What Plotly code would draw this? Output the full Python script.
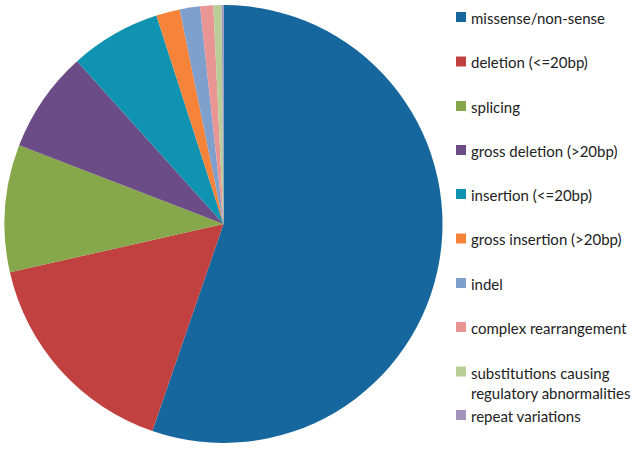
import plotly.graph_objects as go

labels = ["missense/non-sense", "deletion (<=20bp)", "splicing", "gross deletion (>20bp)",
          "insertion (<=20bp)", "gross insertion (>20bp)", "indel", "complex rearrangement",
          "substitutions causing<br>regulatory abnormalities", "repeat variations"]
values = [55.3, 16.2, 9.4, 7.5, 6.7, 1.75, 1.5, 0.97, 0.6, 0.14]
colors = ["#16679e", "#c0413f", "#86a74a", "#6c4c86", "#0f93b0", "#f5843a",
          "#7f9fcd", "#e89594", "#b9ce96", "#a394bd"]

W, H = 640, 449
fig = go.Figure(go.Pie(
    labels=labels, values=values, sort=False, direction="clockwise", rotation=0,
    marker=dict(colors=colors, line=dict(width=0)),
    textinfo="none", hoverinfo="label+percent", showlegend=False,
    domain=dict(x=[4.5 / W, 442.5 / W], y=[1 - 443 / H, 1 - 5 / H]),
))

# custom legend (spacing matches reference)
legend_y = [17, 61.5, 106, 150, 194, 238.5, 283, 327, 371.5, 415]
shapes, annotations = [], []
for lab, col, yc in zip(labels, colors, legend_y):
    shapes.append(dict(type="rect", xref="paper", yref="paper",
                       x0=456 / W, x1=466 / W, y0=1 - (yc + 5) / H, y1=1 - (yc - 5) / H,
                       fillcolor=col, line=dict(width=0)))
    annotations.append(dict(xref="paper", yref="paper", x=469 / W, y=1 - (yc - 10) / H,
                            xanchor="left", yanchor="top", text=lab, showarrow=False,
                            align="left", font=dict(family="Lato", size=15, color="#222222")))

fig.update_layout(width=W, height=H, margin=dict(l=0, r=0, t=0, b=0),
                  paper_bgcolor="white", plot_bgcolor="white",
                  shapes=shapes, annotations=annotations)
fig.write_html("out.html", config={"displayModeBar": False},
               post_script="document.body.style.margin='0';")
